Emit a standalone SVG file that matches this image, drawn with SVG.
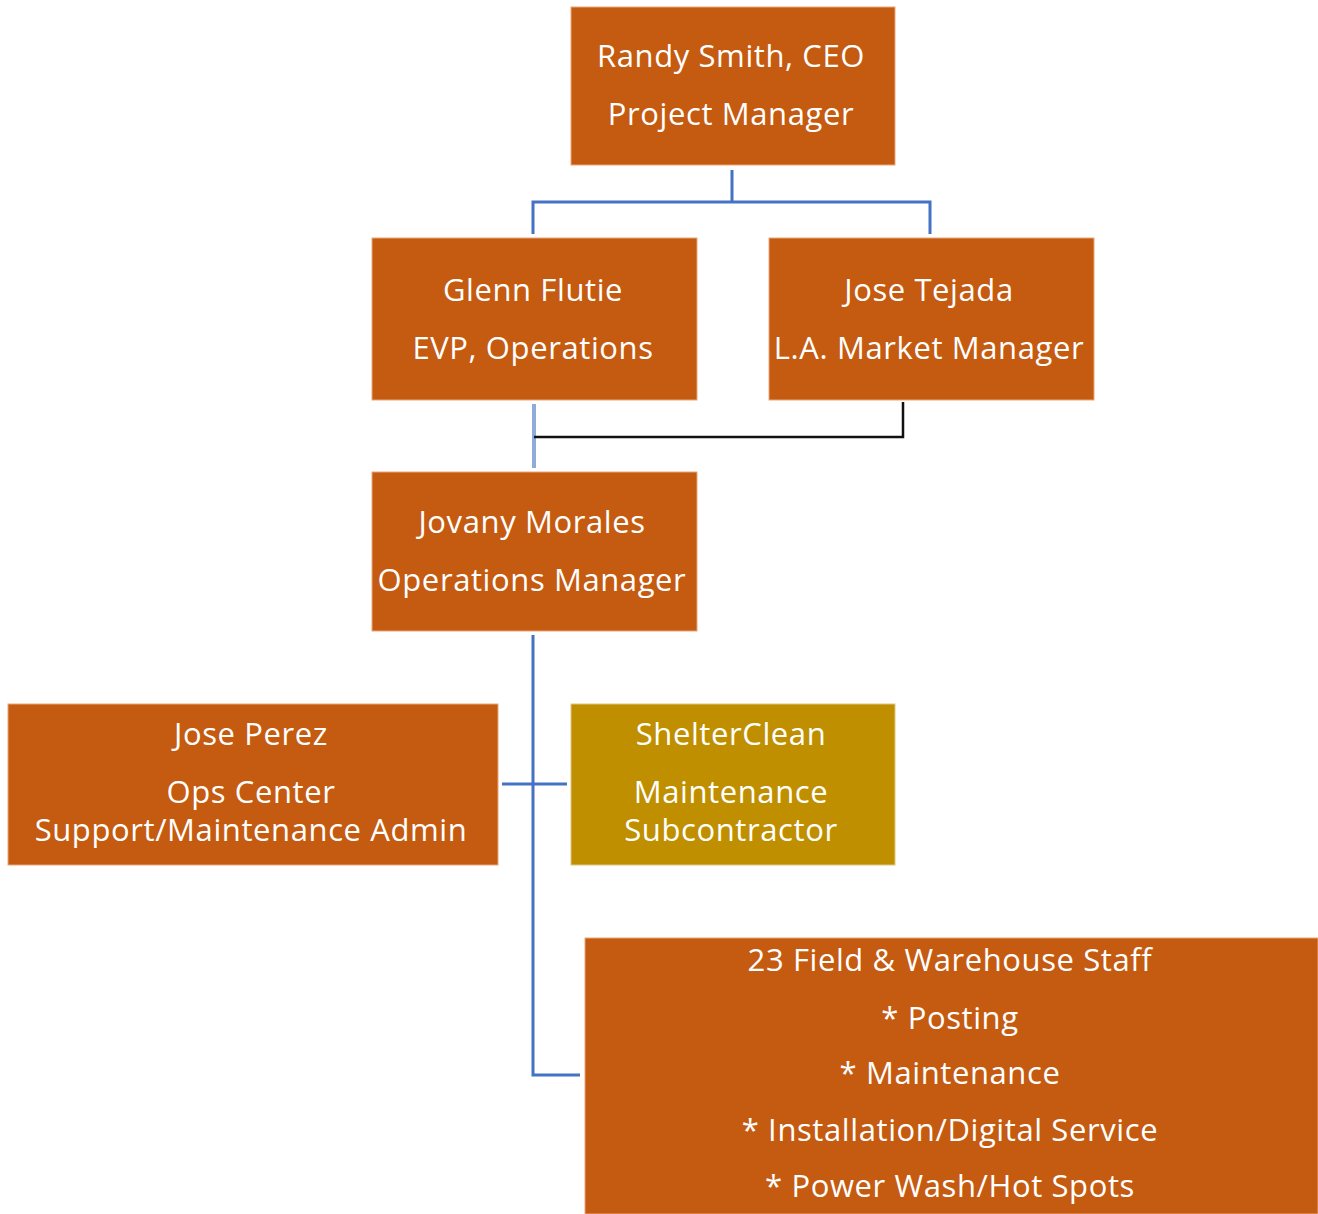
<svg xmlns="http://www.w3.org/2000/svg" width="1318" height="1214" viewBox="0 0 1318 1214">
<style>
.box{fill:#C55A11;stroke:#E9A77A;stroke-width:1}
.gold{fill:#BF8F00;stroke:#E0C680;stroke-width:1}
text{font-family:"Open Sans",Lato,"Liberation Sans",sans-serif;font-size:31px;letter-spacing:0.6px;fill:#FFFFFF;text-anchor:middle;dominant-baseline:central}
.c{fill:none;stroke:#4472C4;stroke-width:3}
.lc{fill:none;stroke:#8FAADC;stroke-width:4}
.k{fill:none;stroke:#111111;stroke-width:2.5}
</style>
<rect width="1318" height="1214" fill="#FFFFFF"/>
<g id="connectors">
<path class="c" d="M732 170 V202 M533 234 V202 H930 V234"/>
<path class="lc" d="M534 404 V468"/>
<path class="k" d="M903 402 V437 H534"/>
<path class="c" d="M533 635 V1075 H580 M502 784 H567"/>
</g>
<g id="ceo"><rect class="box" x="571" y="7" width="324" height="158"/>
<text x="731" y="55">Randy Smith, CEO</text><text x="731" y="113">Project Manager</text></g>
<g id="glenn"><rect class="box" x="372" y="238" width="325" height="162"/>
<text x="533" y="289">Glenn Flutie</text><text x="533" y="347">EVP, Operations</text></g>
<g id="tejada"><rect class="box" x="769" y="238" width="325" height="162"/>
<text x="929" y="289">Jose Tejada</text><text x="929" y="347">L.A. Market Manager</text></g>
<g id="jovany"><rect class="box" x="372" y="472" width="325" height="159"/>
<text x="532" y="521">Jovany Morales</text><text x="532" y="579">Operations Manager</text></g>
<g id="perez"><rect class="box" x="8" y="704" width="490" height="161"/>
<text x="251" y="733">Jose Perez</text><text x="251" y="791">Ops Center</text><text x="251" y="829">Support/Maintenance Admin</text></g>
<g id="shelterclean"><rect class="gold" x="571" y="704" width="324" height="161"/>
<text x="731" y="733">ShelterClean</text><text x="731" y="791">Maintenance</text><text x="731" y="829">Subcontractor</text></g>
<g id="staff"><rect class="box" x="585" y="938" width="733" height="276"/>
<text x="950" y="959">23 Field &amp; Warehouse Staff</text>
<text x="950" y="1017">* Posting</text>
<text x="950" y="1072">* Maintenance</text>
<text x="950" y="1129">* Installation/Digital Service</text>
<text x="950" y="1185">* Power Wash/Hot Spots</text></g>
</svg>
